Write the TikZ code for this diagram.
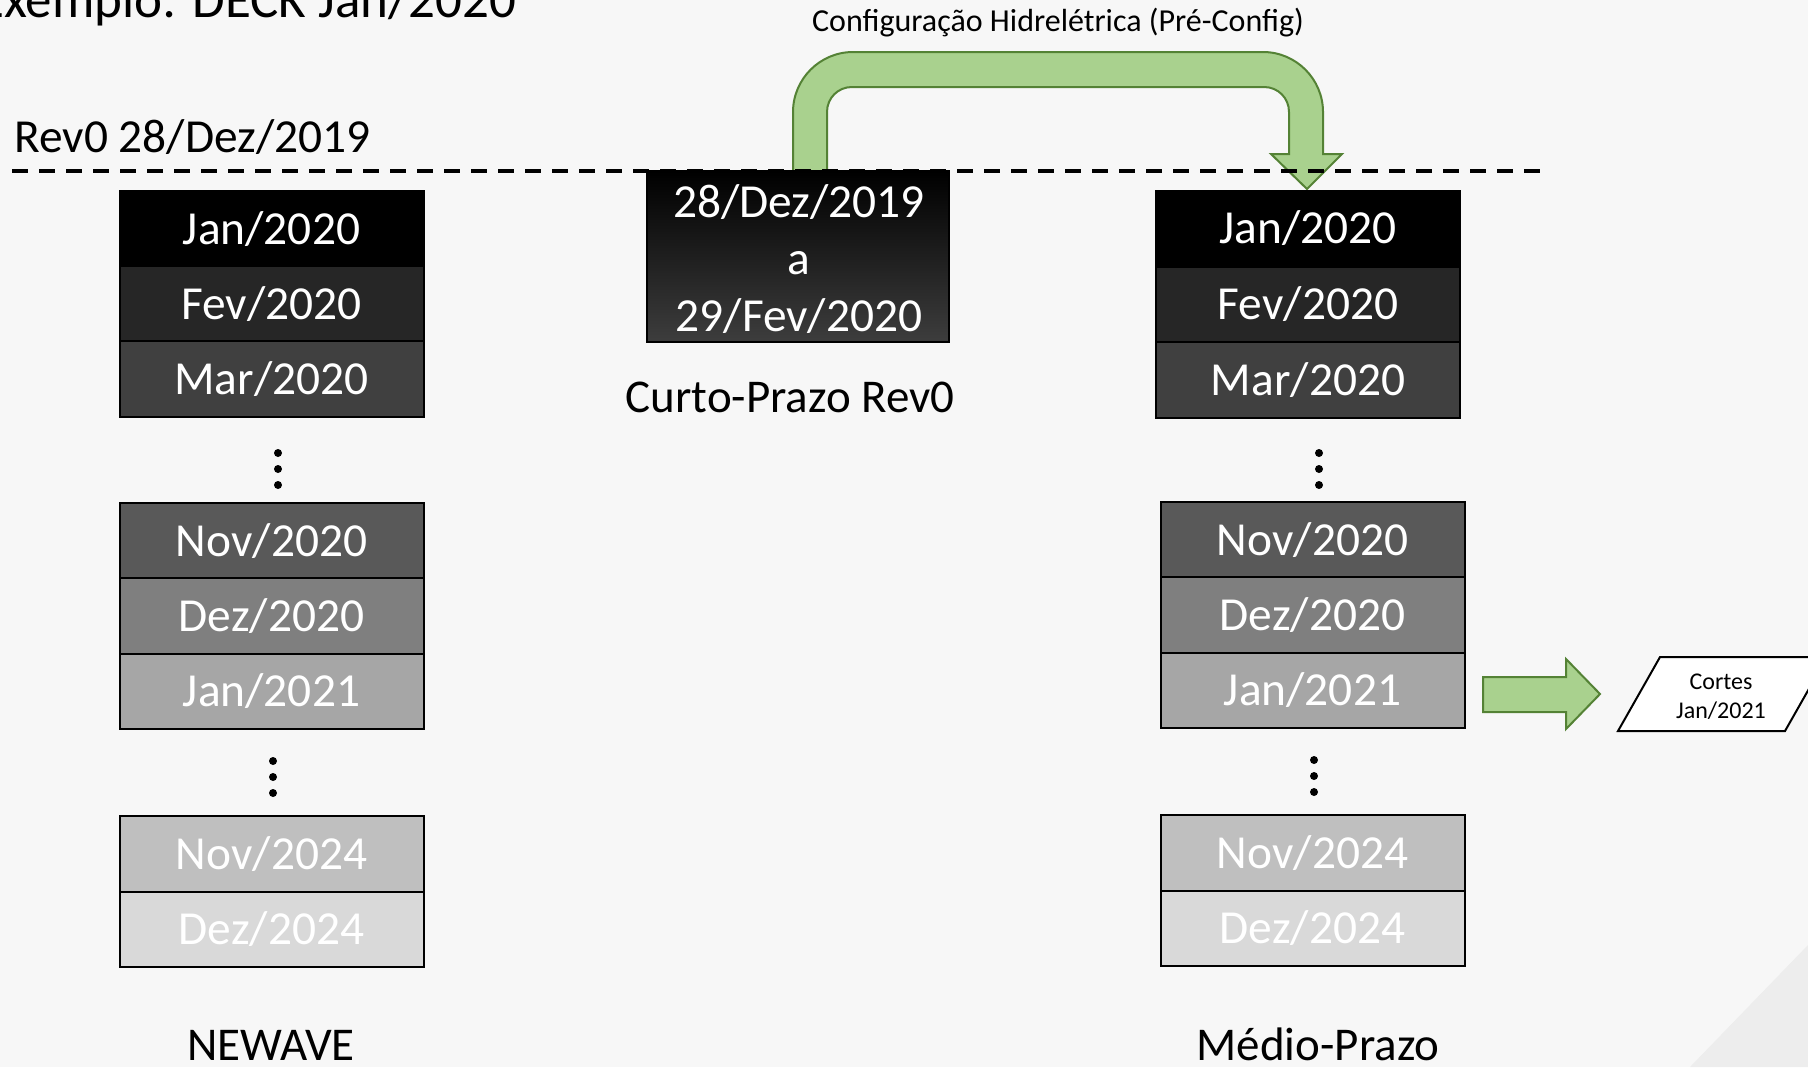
\documentclass[tikz,border=0pt]{standalone}
\usepackage{fontspec}
\setmainfont{Carlito}
\definecolor{bgc}{HTML}{F7F7F7}
\definecolor{gfill}{HTML}{A9D18E}
\definecolor{gline}{HTML}{548235}
\definecolor{m1}{HTML}{000000}
\definecolor{m2}{HTML}{262626}
\definecolor{m3}{HTML}{404040}
\definecolor{m4}{HTML}{595959}
\definecolor{m5}{HTML}{7F7F7F}
\definecolor{m6}{HTML}{A6A6A6}
\definecolor{m7}{HTML}{BFBFBF}
\definecolor{m8}{HTML}{D9D9D9}
\begin{document}
\begin{tikzpicture}[x=0.5pt,y=-0.5pt,
  monthrow/.style={draw=black,line width=1pt,minimum width=152pt,minimum height=37.6pt,
    inner sep=0pt,text=white,font=\fontsize{23.7}{28}\selectfont,text height=15pt,text depth=0pt},
  biglabel/.style={inner sep=0pt,font=\fontsize{23.5}{28}\selectfont,anchor=base},
  greenshape/.style={fill=gfill,draw=gline,line width=1pt,line join=miter},
  vdot/.style={circle,fill=black,inner sep=0pt,minimum size=4pt}]
\useasboundingbox (0,0) rectangle (1808,1067);
\fill[bgc] (0,0) rectangle (1808,1067);
\fill[black!7] (1690,1067) -- (1808,945) -- (1808,1067) -- cycle;

% title
\node[inner sep=0pt,anchor=base west,font=\fontsize{26.5}{30}\selectfont] (title) at (-22,17) {Exemplo: DECK Jan/2020};
\node[inner sep=0pt,anchor=base west,font=\fontsize{23.7}{28}\selectfont] (rev) at (14,152) {Rev0 28/Dez/2019};

% green U arrow
\draw[greenshape] (793,171) -- (793,112) .. controls (793,79) and (820,52) .. (853,52)
  -- (1263,52) .. controls (1296,52) and (1323,79) .. (1323,112)
  -- (1323,154) -- (1342,154) -- (1307,189) -- (1271,154) -- (1289,154)
  -- (1289,112) .. controls (1289,98) and (1278,87) .. (1264,87)
  -- (852,87) .. controls (838,87) and (827,98) .. (827,112) -- (827,171) -- cycle;
\node[inner sep=0pt,anchor=base,font=\fontsize{16}{19}\selectfont] (cfg) at (1058,31) {Configuração Hidrelétrica (Pré-Config)};

% middle box
\shade[top color=black,bottom color=black!76,draw=black,line width=1pt] (647,171) rectangle (949,342);
\node[inner sep=0pt,text=white,align=center,font=\fontsize{23.7}{28.5}\selectfont] (cp) at (799,259) {28/Dez/2019\\a\\29/Fev/2020};
\node[biglabel] (cplab) at (790,412) {Curto-Prazo Rev0};

% dashed line
\coordinate (dashL) at (12,171);
\coordinate (dashR) at (1543,171);
\draw[line width=1.8pt,dash pattern=on 8pt off 5.5pt] (dashL) -- (dashR);

% left column
\node[monthrow,fill=m1] (L1) at (271.5,229) {Jan/2020};
\node[monthrow,fill=m2] (L2) at (271.5,304) {Fev/2020};
\node[monthrow,fill=m3] (L3) at (271.5,379) {Mar/2020};
\node[vdot] (Ld1) at (278,453) {};
\node[vdot] (Ld2) at (278,469) {};
\node[vdot] (Ld3) at (278,485) {};
\node[monthrow,fill=m4] (L4) at (271.5,541) {Nov/2020};
\node[monthrow,fill=m5] (L5) at (271.5,616) {Dez/2020};
\node[monthrow,fill=m6] (L6) at (271.5,691.5) {Jan/2021};
\node[vdot] (Ld4) at (273,761) {};
\node[vdot] (Ld5) at (273,777) {};
\node[vdot] (Ld6) at (273,793) {};
\node[monthrow,fill=m7] (L7) at (271.5,854) {Nov/2024};
\node[monthrow,fill=m8] (L8) at (271.5,929.5) {Dez/2024};
\node[biglabel] (nw) at (271,1060) {NEWAVE};

% right column
\node[monthrow,fill=m1] (R1) at (1308,228.5) {Jan/2020};
\node[monthrow,fill=m2] (R2) at (1308,304.5) {Fev/2020};
\node[monthrow,fill=m3] (R3) at (1308,380) {Mar/2020};
\node[vdot] (Rd1) at (1319,453) {};
\node[vdot] (Rd2) at (1319,469) {};
\node[vdot] (Rd3) at (1319,485) {};
\node[monthrow,fill=m4] (R4) at (1312.5,540) {Nov/2020};
\node[monthrow,fill=m5] (R5) at (1312.5,615) {Dez/2020};
\node[monthrow,fill=m6] (R6) at (1312.5,690.5) {Jan/2021};
\node[vdot] (Rd4) at (1314,760) {};
\node[vdot] (Rd5) at (1314,776) {};
\node[vdot] (Rd6) at (1314,792) {};
\node[monthrow,fill=m7] (R7) at (1312.5,853) {Nov/2024};
\node[monthrow,fill=m8] (R8) at (1312.5,928.5) {Dez/2024};
\node[biglabel] (mp) at (1318,1060) {Médio-Prazo};

% right arrow
\draw[greenshape] (1483,677) -- (1566,677) -- (1566,659) -- (1600,694) -- (1566,729) -- (1566,712) -- (1483,712) -- cycle;

% cortes parallelogram
\draw[fill=white,line width=1pt] (1618,731) -- (1660,657) -- (1827,657) -- (1785,731) -- cycle;
\node[inner sep=0pt,align=center,font=\fontsize{12}{14.5}\selectfont] (cortes) at (1721,697) {Cortes\\Jan/2021};
\end{tikzpicture}
\end{document}
